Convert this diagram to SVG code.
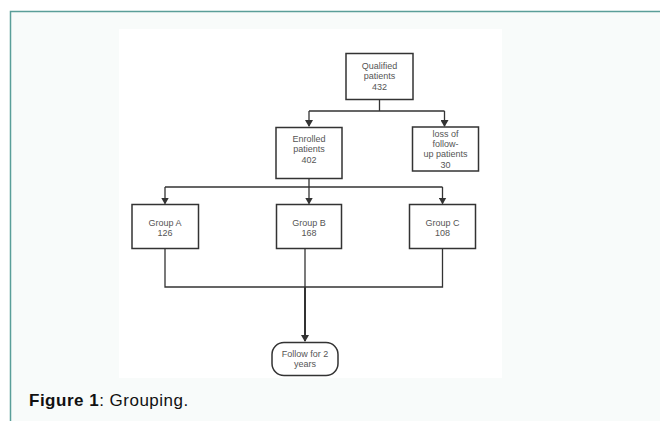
<svg xmlns="http://www.w3.org/2000/svg" width="660" height="421" viewBox="0 0 660 421">
<defs>
<marker id="ah" markerWidth="8" markerHeight="8" refX="6" refY="4" orient="auto" markerUnits="userSpaceOnUse" viewBox="0 0 8 8">
<path d="M0,0 L7,4 L0,8 Z" fill="#333"/>
</marker>
<style>
.box{fill:#fff;stroke:#333;stroke-width:1.5}
.t{font-family:"Liberation Sans",Arial,sans-serif;font-size:9px;fill:#555;text-anchor:middle}
.c{fill:none;stroke:#333;stroke-width:1.3}
</style>
</defs>
<rect x="0" y="0" width="660" height="421" fill="#fff"/>
<rect x="10.5" y="11.5" width="660" height="420" fill="#f8fbfa" stroke="#5a9e99" stroke-width="1.5"/>
<rect x="119" y="29" width="383" height="349" fill="#fff"/>

<g id="connectors">
<path class="c" d="M379.5,99 V111 M309,111 H444.5"/>
<path class="c" d="M309,111 V126" marker-end="url(#ah)"/>
<path class="c" d="M444.5,111 V126" marker-end="url(#ah)"/>
<path class="c" d="M309,178 V187 M165,187 H442.5"/>
<path class="c" d="M165,187 V203.5" marker-end="url(#ah)"/>
<path class="c" d="M309,187 V203.5" marker-end="url(#ah)"/>
<path class="c" d="M442.5,187 V203.5" marker-end="url(#ah)"/>
<path class="c" d="M165,248 V287 H442.5 V248"/>
<path class="c" d="M305,248 V287"/>
<path fill="none" stroke="#333" stroke-width="2" d="M305,287 V341" marker-end="url(#ah)"/>
</g>

<g id="qualified">
<rect class="box" x="346" y="53.5" width="67" height="46"/>
<text class="t" x="379.5" y="68.8">Qualified</text>
<text class="t" x="379.5" y="79.2">patients</text>
<text class="t" x="379.5" y="89.6">432</text>
</g>
<g id="enrolled">
<rect class="box" x="276" y="127.5" width="66" height="51"/>
<text class="t" x="309" y="141.8">Enrolled</text>
<text class="t" x="309" y="152.2">patients</text>
<text class="t" x="309" y="162.6">402</text>
</g>
<g id="loss">
<rect class="box" x="412.5" y="127" width="66" height="44"/>
<text class="t" x="445.5" y="136.6">loss of</text>
<text class="t" x="445.5" y="147">follow-</text>
<text class="t" x="445.5" y="157.4">up patients</text>
<text class="t" x="445.5" y="167.8">30</text>
</g>
<g id="groupA">
<rect class="box" x="132" y="204.5" width="66.5" height="44"/>
<text class="t" x="165" y="226">Group A</text>
<text class="t" x="165" y="236.4">126</text>
</g>
<g id="groupB">
<rect class="box" x="276.5" y="204.5" width="65" height="44"/>
<text class="t" x="309" y="226">Group B</text>
<text class="t" x="309" y="236.4">168</text>
</g>
<g id="groupC">
<rect class="box" x="409.5" y="204.5" width="66" height="44"/>
<text class="t" x="442.5" y="226">Group C</text>
<text class="t" x="442.5" y="236.4">108</text>
</g>
<g id="follow">
<rect class="box" x="272" y="342.5" width="66" height="33" rx="12" ry="12"/>
<text class="t" x="305" y="356.8">Follow for 2</text>
<text class="t" x="305" y="367.2">years</text>
</g>

<text x="29" y="406" font-family="'Liberation Sans',Arial,sans-serif" font-size="17" letter-spacing="0.5" fill="#111"><tspan font-weight="bold">Figure 1</tspan>: Grouping.</text>
</svg>
